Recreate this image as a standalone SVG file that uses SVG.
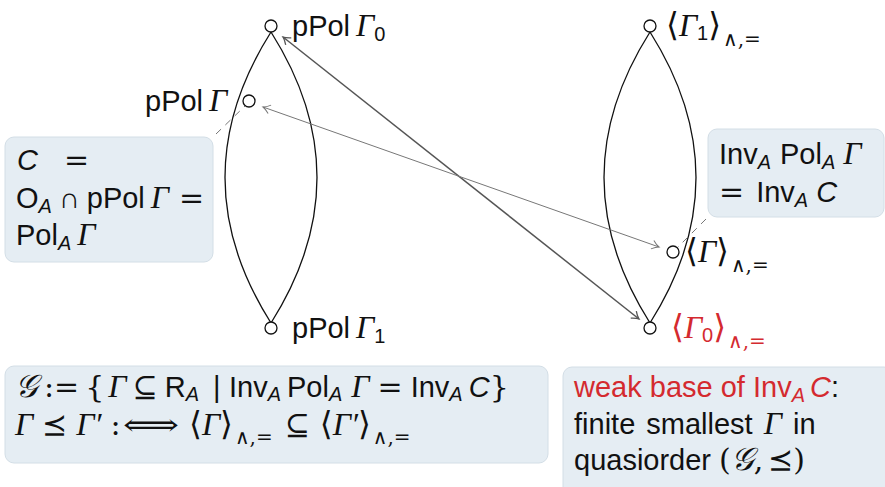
<svg xmlns="http://www.w3.org/2000/svg" width="885" height="487" viewBox="0 0 885 487">
<style>
.t{font-family:"Liberation Sans","DejaVu Sans",sans-serif;font-size:29px;fill:#111}
.g{font-family:"Liberation Serif","DejaVu Serif",serif;font-style:italic;font-size:32px}
.s{font-family:"DejaVu Serif","Liberation Serif",serif;font-style:normal;font-size:30px}
.ab{font-family:"DejaVu Serif","Liberation Serif",serif;font-style:normal;font-size:33px}
.i{font-style:italic}
.sub{font-size:20px}
.ss{font-size:20px;font-family:"DejaVu Serif",serif;font-style:normal}
.red{fill:#d42a2f}
.box{fill:#e5edf3;stroke:#d3dee6;stroke-width:1}
.lens{fill:none;stroke:#111;stroke-width:1.3}
.node{fill:#fff;stroke:#111;stroke-width:1.3}
.a1{stroke:#555;stroke-width:1.5;fill:none}
.a2{stroke:#777;stroke-width:1;fill:none}
.dash{stroke:#777;stroke-width:1;stroke-dasharray:7 6;fill:none}
</style>
<defs>
<marker id="h1" viewBox="-8 -6 10 12" markerWidth="10" markerHeight="12" refX="0" refY="0" orient="auto-start-reverse" markerUnits="userSpaceOnUse">
<path d="M-7,-4.5 Q-3,-1 0,0 Q-3,1 -7,4.5" fill="none" stroke="#555" stroke-width="1.3"/>
</marker>
<marker id="h2" viewBox="-8 -6 10 12" markerWidth="10" markerHeight="12" refX="0" refY="0" orient="auto-start-reverse" markerUnits="userSpaceOnUse">
<path d="M-7,-4.5 Q-3,-1 0,0 Q-3,1 -7,4.5" fill="none" stroke="#777" stroke-width="1"/>
</marker>
</defs>

<g id="lenses">
<path class="lens" d="M271,32 Q179,177.5 271,323"/>
<path class="lens" d="M271,32 Q363,177.5 271,323"/>
<path class="lens" d="M650,32 Q558,177.5 650,323"/>
<path class="lens" d="M650,32 Q742,177.5 650,323"/>
</g>

<g id="connectors">
<path class="a1" d="M283,37 L639,319" marker-start="url(#h1)" marker-end="url(#h1)"/>
<path class="a2" d="M263,107 L659,247" marker-start="url(#h2)" marker-end="url(#h2)"/>
<path class="dash" d="M216,134 L245,106"/>
<path class="dash" d="M706,219 L678,247"/>
</g>

<g id="n-ppol-g0">
<circle class="node" cx="271" cy="26" r="6"/>
<text class="t" x="292" y="36">pPol<tspan class="g" dx="6">Γ</tspan><tspan class="sub" dy="5">0</tspan></text>
</g>
<g id="n-ppol-g">
<circle class="node" cx="249" cy="101" r="6"/>
<text class="t" x="145" y="111">pPol<tspan class="g" dx="6">Γ</tspan></text>
</g>
<g id="n-ppol-g1">
<circle class="node" cx="271" cy="328" r="6"/>
<text class="t" x="292" y="338">pPol<tspan class="g" dx="6">Γ</tspan><tspan class="sub" dy="5">1</tspan></text>
</g>
<g id="n-g1">
<circle class="node" cx="650" cy="26" r="6"/>
<text class="t" x="666" y="36"><tspan class="ab">⟨</tspan><tspan class="g">Γ</tspan><tspan class="sub" dy="4">1</tspan><tspan class="ab" dy="-4">⟩</tspan><tspan class="ss" dy="10" dx="2">∧,=</tspan></text>
</g>
<g id="n-g">
<circle class="node" cx="673" cy="252" r="6"/>
<text class="t" x="685" y="262"><tspan class="ab">⟨</tspan><tspan class="g">Γ</tspan><tspan class="ab">⟩</tspan><tspan class="ss" dy="10" dx="2">∧,=</tspan></text>
</g>
<g id="n-g0">
<circle class="node" cx="650" cy="328" r="6"/>
<text class="t red" x="671" y="338"><tspan class="ab">⟨</tspan><tspan class="g">Γ</tspan><tspan class="sub" dy="4">0</tspan><tspan class="ab" dy="-4">⟩</tspan><tspan class="ss" dy="10" dx="2">∧,=</tspan></text>
</g>

<g id="box-c">
<rect class="box" x="5" y="137" width="208" height="125" rx="9"/>
<text class="t" x="17" y="170"><tspan class="i">C</tspan><tspan class="s" x="64">=</tspan></text>
<text class="t" x="16" y="208">O<tspan class="sub i" dy="5">A</tspan><tspan dy="-5" dx="7">∩</tspan><tspan dx="7">pPol</tspan><tspan class="g" dx="6">Γ</tspan><tspan class="s" dx="10">=</tspan></text>
<text class="t" x="16" y="245">Pol<tspan class="sub i" dy="5">A</tspan><tspan class="g" dy="-5" dx="6">Γ</tspan></text>
</g>

<g id="box-inv">
<rect class="box" x="708" y="129" width="176" height="88" rx="9"/>
<text class="t" x="719" y="164">Inv<tspan class="sub i" dy="5">A</tspan><tspan dy="-5" dx="9">Pol</tspan><tspan class="sub i" dy="5">A</tspan><tspan class="g" dy="-5" dx="8">Γ</tspan></text>
<text class="t" x="719" y="202"><tspan class="s">=</tspan><tspan dx="12">Inv</tspan><tspan class="sub i" dy="5">A</tspan><tspan class="i" dy="-5" dx="8">C</tspan></text>
</g>

<g id="box-g">
<rect class="box" x="5" y="366" width="543" height="97" rx="9"/>
<text class="t" x="15" y="397"><tspan class="g">𝒢</tspan><tspan class="s" dx="6">:=</tspan><tspan class="s" dx="6">{</tspan><tspan class="g" dx="4">Γ</tspan><tspan class="s" dx="6">⊆</tspan><tspan dx="7">R</tspan><tspan class="sub i" dy="4">A</tspan></text>
<text class="t" x="213" y="397">|</text>
<text class="t" x="229" y="397">Inv<tspan class="sub i" dy="4">A</tspan><tspan dy="-4" dx="6">Pol</tspan><tspan class="sub i" dy="4">A</tspan><tspan class="g" dy="-4" dx="9">Γ</tspan><tspan class="s" dx="8">=</tspan><tspan dx="8">Inv</tspan><tspan class="sub i" dy="4">A</tspan><tspan class="i" dy="-4" dx="6">C</tspan><tspan class="s">}</tspan></text>
<text class="t" x="15" y="435"><tspan class="g">Γ</tspan><tspan class="s" dx="9">⪯</tspan><tspan class="g" dx="9">Γ′</tspan><tspan class="s" dx="9">:</tspan></text>
<text class="s" x="123" y="435" textLength="56" lengthAdjust="spacingAndGlyphs" fill="#111">⟺</text>
<text class="t" x="189" y="435"><tspan class="ab">⟨</tspan><tspan class="g">Γ</tspan><tspan class="ab">⟩</tspan><tspan class="ss" dy="9" dx="2">∧,=</tspan><tspan class="s" dy="-9" dx="12">⊆</tspan><tspan class="ab" dx="10">⟨</tspan><tspan class="g">Γ′</tspan><tspan class="ab">⟩</tspan><tspan class="ss" dy="9" dx="2">∧,=</tspan></text>
</g>

<g id="box-weak">
<rect class="box" x="563" y="367" width="330" height="130" rx="9"/>
<text class="t" x="574" y="397"><tspan class="red">weak base of Inv</tspan><tspan class="sub i red" dy="5">A</tspan><tspan class="i red" dy="-5" dx="5">C</tspan>:</text>
<text class="t" x="574" y="434" word-spacing="3">finite smallest <tspan class="g">Γ</tspan> in</text>
<text class="t" x="574" y="470">quasiorder <tspan class="s">(</tspan><tspan class="g">𝒢</tspan><tspan class="s">,</tspan><tspan class="s" dx="5">⪯</tspan><tspan class="s">)</tspan></text>
</g>
</svg>
